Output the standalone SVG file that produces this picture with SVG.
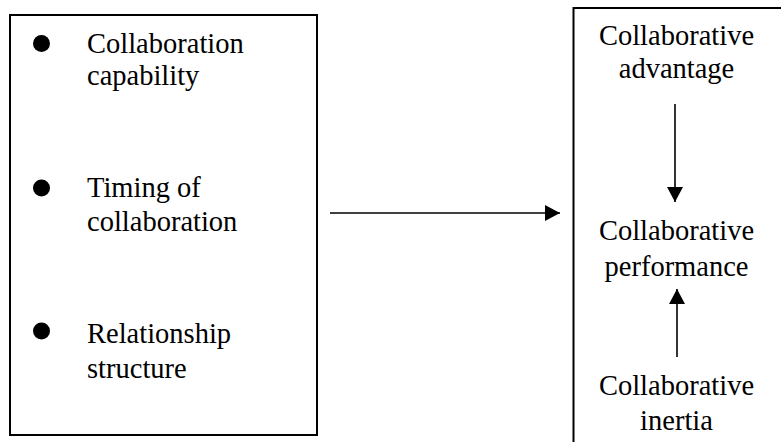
<svg xmlns="http://www.w3.org/2000/svg" width="781" height="442" viewBox="0 0 781 442">
<defs>
<style>
.box{fill:none;stroke:#000;stroke-width:2}
.t{font-family:"Liberation Serif","Times New Roman",serif;font-size:28.5px;fill:#000}
.c{text-anchor:middle}
.ln{stroke:#000;stroke-width:1.6;fill:none}
</style>
<marker id="ah" viewBox="0 0 15 16" refX="15" refY="8" markerWidth="15" markerHeight="16" markerUnits="userSpaceOnUse" orient="auto">
<path d="M0,0 L15,8 L0,16 Z" fill="#000"/>
</marker>
</defs>
<rect width="781" height="442" fill="#fff"/>
<g id="factors">
<rect class="box" x="10" y="15" width="307" height="420"/>
<circle cx="41.5" cy="43.5" r="8.5"/>
<text class="t" x="87" y="53">Collaboration</text>
<text class="t" x="87" y="85">capability</text>
<circle cx="41.5" cy="188" r="8.5"/>
<text class="t" x="87" y="197">Timing of</text>
<text class="t" x="87" y="231">collaboration</text>
<circle cx="41.5" cy="331" r="8.5"/>
<text class="t" x="87" y="343">Relationship</text>
<text class="t" x="87" y="378">structure</text>
</g>
<g id="outcomes">
<rect class="box" x="573.5" y="8" width="230" height="460"/>
</g>
<g id="advantage">
<text class="t c" x="676.5" y="45">Collaborative</text>
<text class="t c" x="676.5" y="78">advantage</text>
</g>
<g id="performance">
<text class="t c" x="676.5" y="240">Collaborative</text>
<text class="t c" x="676.5" y="276">performance</text>
</g>
<g id="inertia">
<text class="t c" x="676.5" y="395">Collaborative</text>
<text class="t c" x="676.5" y="430">inertia</text>
</g>
<g id="connectors">
<line class="ln" x1="330" y1="213" x2="560" y2="213" marker-end="url(#ah)"/>
<line class="ln" x1="675" y1="104" x2="675" y2="202" marker-end="url(#ah)"/>
<line class="ln" x1="677" y1="357" x2="677" y2="289" marker-end="url(#ah)"/>
</g>
</svg>
